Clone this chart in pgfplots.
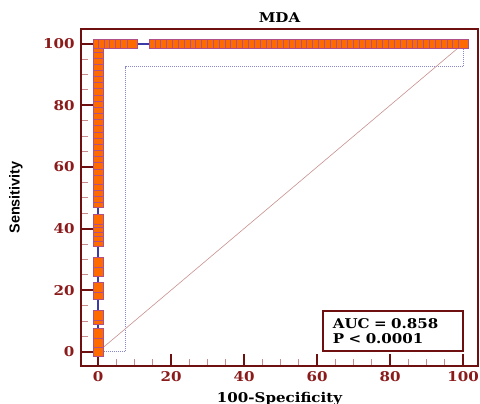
\documentclass[border=0pt]{standalone}
\usepackage{fontspec}
\setmainfont{DejaVu Serif}[FakeStretch=1.12]
\newfontfamily\labelsans{Liberation Sans}
\usepackage{pgfplots}
\pgfplotsset{compat=1.18}
\definecolor{frame}{HTML}{6E1010}
\definecolor{ticklab}{HTML}{8B1A1A}
\definecolor{minort}{HTML}{C88A8A}
\definecolor{markfill}{HTML}{FF6A00}
\definecolor{markedge}{HTML}{B0508A}
\definecolor{rocblue}{HTML}{3A3AA8}
\definecolor{ciblue}{HTML}{8888D0}
\definecolor{diag}{HTML}{C89090}
\begin{document}
\begin{tikzpicture}
\begin{axis}[name=ax, at={(0,0)}, anchor=south west, scale only axis,
  width=397bp, height=337bp,
  xmin=-4.66, xmax=104.1, ymin=-4.6, ymax=104.8,
  axis line style={frame, line width=1.6bp},
  xtick={0,20,...,100}, ytick={0,20,...,100},
  minor x tick num=3, minor y tick num=3,
  tick align=inside, xtick pos=left, ytick pos=left,
  major tick length=12bp, minor tick length=7bp,
  major tick style={frame, line width=1.8bp},
  minor tick style={minort, line width=1bp},
  tick label style={font=\fontsize{13.5}{15}\selectfont\bfseries, text=ticklab},
  yticklabel style={xshift=-3bp},
  xticklabel style={yshift=-2bp},
  /pgf/number format/assume math mode=true,
  clip=false]
% confidence bound (dotted)
\addplot[ciblue, densely dotted, line width=1bp] coordinates {(0,0) (7.4,0) (7.4,92.5) (100,92.5) (100,100)};
% diagonal
\addplot[diag, line width=0.6bp] coordinates {(0,0) (100,100)};
% ROC line
\addplot[rocblue, line width=2bp] coordinates {(0,0) (0,100) (100,100)};
% markers along x=0
\addplot[only marks, mark=square*, mark size=4.9bp, mark options={fill=markfill, draw=markedge, line width=0.5bp}] coordinates {
(0,0) (0,3) (0,6) (0,10.5) (0,12) (0,18.5) (0,21) (0,26) (0,29)
(0,36) (0,37.5) (0,39) (0,40.5) (0,42) (0,43)
(0,48.5) (0,50) (0,52) (0,54) (0,56)
(0,59) (0,61) (0,63) (0,65) (0,67) (0,69) (0,71) (0,73) (0,75) (0,77) (0,79)
(0,81) (0,83) (0,85) (0,87) (0,89) (0,91) (0,93) (0,95) (0,97) (0,99) (0,100)};
% markers along y=100
\addplot[only marks, mark=square*, mark size=4.9bp, mark options={fill=markfill, draw=markedge, line width=0.5bp}] coordinates {
(1.5,100) (3,100) (4.5,100) (6,100) (7.5,100) (9.3,100)
(15.3,100) (16.9,100) (18.5,100) (20.1,100) (21.7,100) (23.3,100) (24.9,100) (26.5,100)
(28.1,100) (29.7,100) (31.3,100) (32.9,100) (34.5,100) (36.1,100) (37.7,100) (39.3,100)
(40.9,100) (42.5,100) (44.1,100) (45.7,100) (47.3,100) (48.9,100) (50.5,100) (52.1,100)
(53.7,100) (55.3,100) (56.9,100) (58.5,100) (60.1,100) (61.7,100) (63.3,100) (64.9,100)
(66.5,100) (68.1,100) (69.7,100) (71.3,100) (72.9,100) (74.5,100) (76.1,100) (77.7,100)
(79.3,100) (80.9,100) (82.5,100) (84.1,100) (85.7,100) (87.3,100) (88.9,100) (90.5,100)
(92.1,100) (93.7,100) (95.3,100) (96.9,100) (98.5,100) (100,100)};
\node[draw=frame, line width=1.4bp, fill=white, anchor=south west,
  minimum width=140bp, minimum height=40bp, inner xsep=10bp, inner ysep=4bp,
  text width=120bp, align=left,
  font=\fontsize{13.5}{16}\selectfont\bfseries] at (axis cs:61.4,0) {AUC = 0.858\\P < 0.0001};
\end{axis}
\node[font=\fontsize{13.5}{15}\selectfont\bfseries, anchor=base] at ([yshift=6bp]ax.north) {MDA};
\node[font=\fontsize{13.5}{15}\selectfont\bfseries, anchor=base] at ([yshift=-36bp]ax.south) {100-Specificity};
\node[font=\labelsans\fontsize{14.5}{16}\selectfont\bfseries, rotate=90, anchor=center] at ([xshift=-65bp]ax.west) {Sensitivity};
\pgfresetboundingbox
\path ([shift={(-81bp,-38bp)}]ax.south west) rectangle ([shift={(2bp,29bp)}]ax.north east);
\end{tikzpicture}
\end{document}
